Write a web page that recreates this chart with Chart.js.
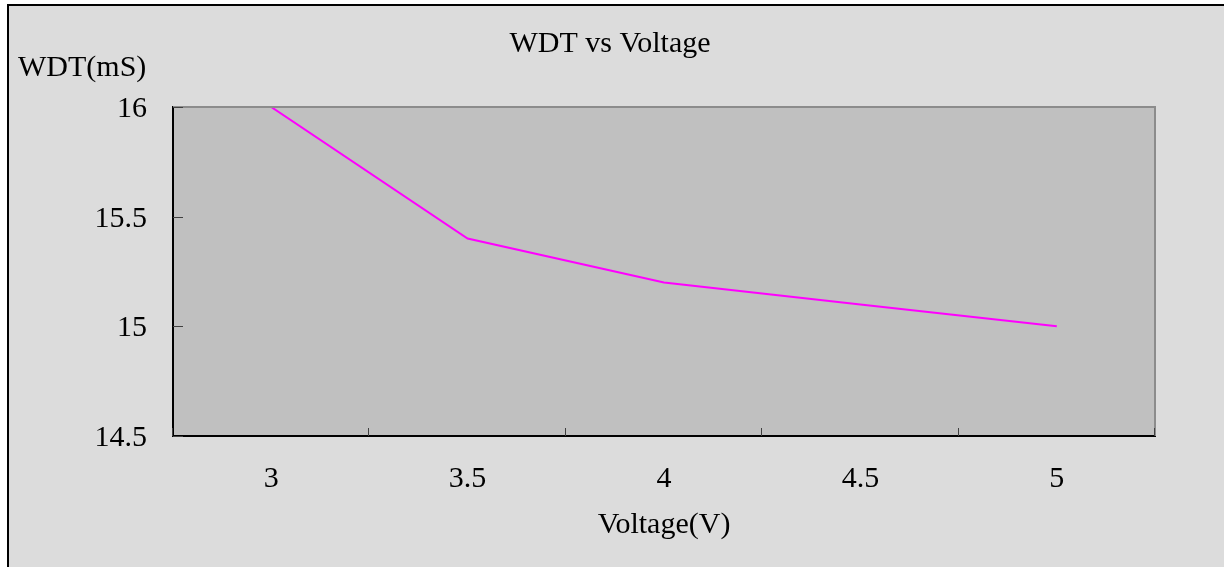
<!DOCTYPE html>
<html>
<head>
<meta charset="utf-8">
<script src="https://cdn.jsdelivr.net/npm/chart.js@4/dist/chart.umd.min.js"></script>
<style>
  body { margin: 0; background: #fff; }
  #frame {
    position: absolute; left: 7px; top: 4px; width: 1240px; height: 600px;
    border-left: 2px solid #000; border-top: 2px solid #000; background: #dcdcdc;
  }
  #myChart { position: absolute; left: 0; top: 0; }
</style>
</head>
<body>
<div id="frame"></div>
<canvas id="myChart" width="1224" height="567"></canvas>
<script>
// data
var voltages = ["3", "3.5", "4", "4.5", "5"];
var wdtValues = [16, 15.4, 15.2, 15.1, 15.0];
var yMin = 14.5;
var yMax = 16;
var yStep = 0.5;

var serif = "'Liberation Serif', 'Times New Roman', serif";

// plot background, grey top/right frame, inward ticks and the unrotated y label
var framePlugin = {
  id: "framePlugin",
  beforeDraw: function (chart) {
    var ctx = chart.ctx;
    var a = chart.chartArea;
    ctx.save();
    ctx.fillStyle = "#c0c0c0";
    ctx.fillRect(a.left, a.top, a.right - a.left, a.bottom - a.top);
    ctx.restore();
  },
  afterDraw: function (chart) {
    var ctx = chart.ctx;
    var a = chart.chartArea;
    var xs = chart.scales.x;
    var ys = chart.scales.y;
    ctx.save();
    // top and right edges
    ctx.strokeStyle = "#8c8c8c";
    ctx.lineWidth = 2;
    ctx.beginPath();
    ctx.moveTo(a.left, a.top);
    ctx.lineTo(a.right, a.top);
    ctx.lineTo(a.right, a.bottom);
    ctx.stroke();

    // ticks pointing into the plot
    ctx.strokeStyle = "#404040";
    ctx.lineWidth = 1;
    ctx.beginPath();
    ys.ticks.forEach(function (t) {
      var y = Math.round(ys.getPixelForValue(t.value)) + 0.5;
      ctx.moveTo(a.left, y);
      ctx.lineTo(a.left + 10, y);
    });
    for (var i = 0; i <= voltages.length; i++) {
      var x;
      if (i === 0) x = a.left;
      else if (i === voltages.length) x = a.right;
      else x = (xs.getPixelForValue(i - 1) + xs.getPixelForValue(i)) / 2;
      x = Math.round(x) - 0.5;
      ctx.moveTo(x, a.bottom);
      ctx.lineTo(x, a.bottom - 8);
    }
    ctx.stroke();

    ctx.fillStyle = "#000";
    ctx.font = "30px " + serif;
    ctx.textAlign = "left";
    ctx.textBaseline = "alphabetic";
    ctx.fillText("WDT(mS)", 18, 76);
    ctx.restore();
  }
};

var ctx = document.getElementById("myChart").getContext("2d");
var chart = new Chart(ctx, {
  type: "line",
  data: {
    labels: voltages,
    datasets: [
      {
        label: "WDT",
        data: wdtValues,
        borderColor: "#ff00ff",
        borderWidth: 2,
        pointRadius: 0,
        fill: false,
        tension: 0,
      },
    ],
  },
  options: {
    responsive: false,
    animation: false,
    layout: { padding: { top: 0, right: 69, bottom: 0, left: 65 } },
    plugins: {
      legend: { display: false },
      tooltip: { enabled: false },
      title: {
        display: true,
        text: "WDT vs Voltage",
        color: "#000",
        font: { family: serif, size: 30, weight: "normal", lineHeight: 1.2 },
        padding: { top: 26, bottom: 45 },
      },
    },
    scales: {
      x: {
        type: "category",
        offset: true,
        grid: { display: false, drawTicks: false },
        border: { display: true, color: "#000", width: 2 },
        ticks: {
          color: "#000",
          font: { family: serif, size: 30 },
          padding: 25,
          maxRotation: 0,
        },
        title: {
          display: true,
          text: "Voltage(V)",
          color: "#000",
          font: { family: serif, size: 30 },
          padding: { top: 0, bottom: 24 },
        },
        afterFit: function (scale) {
          scale.height = 131;
        },
      },
      y: {
        min: yMin,
        max: yMax,
        grid: { display: false, drawTicks: false },
        border: { display: true, color: "#000", width: 2 },
        ticks: {
          stepSize: yStep,
          color: "#000",
          font: { family: serif, size: 30 },
          padding: 26,
          labelOffset: 2,
          callback: function (value) {
            return String(value);
          },
        },
        afterFit: function (scale) {
          scale.width = 108;
        },
      },
    },
  },
  plugins: [framePlugin],
});
</script>
</body>
</html>
